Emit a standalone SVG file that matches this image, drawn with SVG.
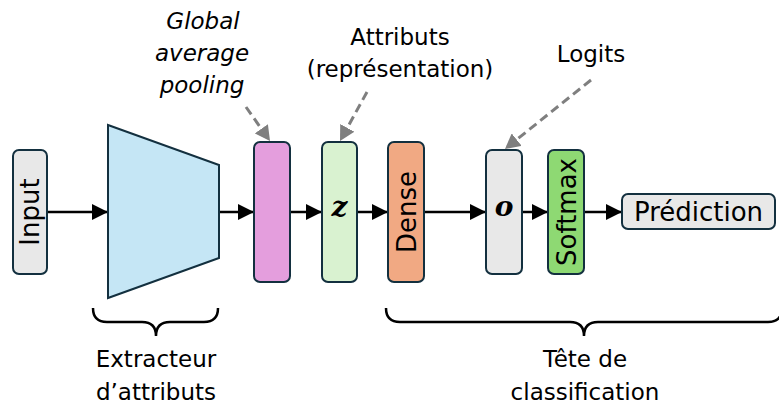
<svg xmlns="http://www.w3.org/2000/svg" width="779" height="406" viewBox="0 0 779 406">
<defs>
<style>
.box{stroke:#13303f;stroke-width:2}
.lbl{font-family:"DejaVu Sans",sans-serif;font-size:23px;fill:#000}
.rot{font-family:"DejaVu Sans",sans-serif;font-size:26px;fill:#000;text-anchor:middle}
.math{font-family:"DejaVu Serif",serif;font-size:28px;font-weight:bold;font-style:italic;fill:#000;text-anchor:middle}
.arr{stroke:#000;stroke-width:2.5;fill:none;marker-end:url(#ah)}
.dash{stroke:#7f7f7f;stroke-width:3;stroke-dasharray:9 5;fill:none;marker-end:url(#gh)}
.brace{stroke:#000;stroke-width:2.5;fill:none}
</style>
<marker id="ah" markerUnits="userSpaceOnUse" markerWidth="16" markerHeight="16" refX="16" refY="8" orient="auto">
<path d="M0,0 L16,8 L0,16 z" fill="#000"/>
</marker>
<marker id="gh" markerUnits="userSpaceOnUse" markerWidth="16" markerHeight="16" refX="15" refY="8" orient="auto">
<path d="M0,0 L15,8 L0,16 z" fill="#7f7f7f"/>
</marker>
</defs>
<rect width="779" height="406" fill="#fff"/>

<g id="connectors">
<line class="arr" x1="47" y1="212" x2="108" y2="212"/>
<line class="arr" x1="219" y1="212" x2="254" y2="212"/>
<line class="arr" x1="290" y1="212" x2="322" y2="212"/>
<line class="arr" x1="357" y1="212" x2="388" y2="212"/>
<line class="arr" x1="424" y1="212" x2="486" y2="212"/>
<line class="arr" x1="522" y1="212" x2="548" y2="212"/>
<line class="arr" x1="584" y1="212" x2="622" y2="212"/>
<line class="dash" x1="246" y1="107" x2="270" y2="141"/>
<line class="dash" x1="367" y1="92" x2="340" y2="141"/>
<line class="dash" x1="591" y1="80" x2="505" y2="149"/>
</g>

<g id="input">
<rect class="box" x="13" y="150" width="34" height="124" rx="6" fill="#e8e8e8"/>
<text class="rot" transform="translate(30,212) rotate(-90)" x="0" y="9">Input</text>
</g>

<g id="extractor">
<polygon class="box" points="108,125 219,165 219,258 108,298" fill="#c5e6f5"/>
</g>

<g id="gap">
<rect class="box" x="254" y="142" width="36" height="140" rx="6" fill="#e49edd"/>
</g>

<g id="z">
<rect class="box" x="322" y="142" width="35" height="140" rx="6" fill="#d9f2d0"/>
<text class="math" x="339.5" y="216">z</text>
</g>

<g id="dense">
<rect class="box" x="388" y="142" width="36" height="140" rx="6" fill="#f1a983"/>
<text class="rot" transform="translate(406,212) rotate(-90)" x="0" y="9.5">Dense</text>
</g>

<g id="o">
<rect class="box" x="486" y="150" width="36" height="124" rx="6" fill="#e8e8e8"/>
<text class="math" x="504" y="216">o</text>
</g>

<g id="softmax">
<rect class="box" x="548" y="150" width="36" height="124" rx="6" fill="#8ed973"/>
<text class="rot" transform="translate(566,212) rotate(-90)" x="0" y="10">Softmax</text>
</g>

<g id="prediction">
<rect class="box" x="622" y="194" width="153" height="35" rx="6" fill="#e8e8e8"/>
<text class="rot" x="698.5" y="221">Prédiction</text>
</g>

<g id="label-gap">
<text class="lbl" font-style="italic" text-anchor="middle" x="203" y="29">Global</text>
<text class="lbl" font-style="italic" text-anchor="middle" x="202" y="61">average</text>
<text class="lbl" font-style="italic" text-anchor="middle" x="202" y="93">pooling</text>
</g>

<g id="label-attributs">
<text class="lbl" text-anchor="middle" x="400" y="45">Attributs</text>
<text class="lbl" text-anchor="middle" x="400" y="77">(représentation)</text>
</g>

<g id="label-logits">
<text class="lbl" text-anchor="middle" x="591" y="62">Logits</text>
</g>

<g id="brace-extractor">
<path class="brace" d="M93,308 Q93,322 107,322 L142,322 Q156,322 156,336 Q156,322 170,322 L204,322 Q218,322 218,308"/>
<text class="lbl" text-anchor="middle" x="156" y="367">Extracteur</text>
<text class="lbl" text-anchor="middle" x="156" y="400">d’attributs</text>
</g>

<g id="brace-head">
<path class="brace" d="M386,308 Q386,322 400,322 L570,322 Q584,322 584,336 Q584,322 598,322 L768,322 Q782,322 782,308"/>
<text class="lbl" text-anchor="middle" x="585" y="367">Tête de</text>
<text class="lbl" text-anchor="middle" x="585" y="400">classification</text>
</g>
</svg>
